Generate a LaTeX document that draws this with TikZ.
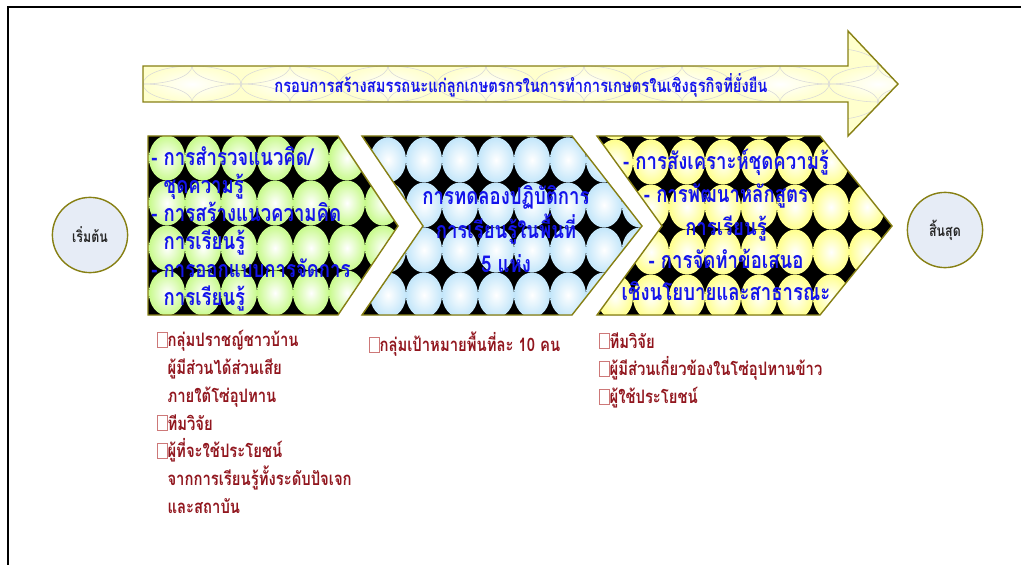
\documentclass[tikz,border=0pt]{standalone}
\usepackage{fontspec}
\usepackage{xcolor}
\usepackage{tikz}
\usetikzlibrary{positioning}
\newfontfamily\thaifont[Script=Thai,FakeStretch=0.8]{Loma}
\definecolor{oliveline}{RGB}{135,128,20}
\definecolor{titleblue}{RGB}{20,20,235}
\definecolor{listred}{RGB}{145,22,30}
\definecolor{boxred}{RGB}{205,120,120}
\definecolor{ballgreen}{RGB}{200,250,140}
\definecolor{ballblue}{RGB}{195,230,250}
\definecolor{ballyellow}{RGB}{255,255,140}
\definecolor{arrowfill}{RGB}{255,255,205}
\definecolor{endfill}{RGB}{230,236,246}
\newcommand{\stagefont}[1]{\thaifont\bfseries\fontsize{16.5}{#1}\selectfont\lineskiplimit=-40pt}
\newcommand{\listfont}{\thaifont\bfseries\fontsize{13.2}{19.8}\selectfont\lineskiplimit=-40pt}
\newcommand{\missbox}{{\color{boxred}\setlength{\fboxsep}{0pt}\setlength{\fboxrule}{0.5pt}\fbox{\rule{0pt}{10pt}\hspace{6.3pt}}}}
% grid of shaded balls: colour, first x, first y
\newcommand{\ballgrid}[3]{\foreach \c in {-1,...,8} \foreach \r in {-1,...,4}
  \shade[inner color=white, outer color=#1] ({#2+36*\c},{#3+45*\r}) ellipse (18 and 22.5);}
\tikzstyle{stage} = [draw=oliveline, line width=1pt, line join=miter]
\tikzstyle{endpoint} = [circle, draw=oliveline, line width=1pt, fill=endfill, minimum size=1.88cm, font=\thaifont\bfseries\fontsize{11}{13}\selectfont, text=black!85]
\tikzstyle{stagetext} = [text=titleblue, inner sep=0pt]
\tikzstyle{listtext} = [font=\listfont, text=listred, align=left, inner sep=0pt, anchor=north west]

\begin{document}
\begin{tikzpicture}[x=0.025cm, y=-0.025cm]
        \useasboundingbox (0,0) rectangle (1021,565);
        % Frame
        \draw [line width=1pt] (8,565) -- (8,7) -- (1021,7);

        % Big arrow
        \begin{scope}
          \clip (143,66) -- (848,66) -- (848,31) -- (898,84) -- (848,136) -- (848,102) -- (143,102) -- cycle;
          \fill [arrowfill] (143,31) rectangle (898,136);
          \foreach \i in {0,...,8} {
            \shade [inner color=white, outer color=arrowfill] ({192+98*\i},84) ellipse (49 and 18);
            \draw [gray!30, line width=0.4pt] ({192+98*\i},84) ellipse (49 and 18);
            \draw [gray!30, line width=0.4pt] ({143+98*\i},66) ellipse (49 and 18);
            \draw [gray!30, line width=0.4pt] ({143+98*\i},102) ellipse (49 and 18);
          }
        \end{scope}
        \draw [stage] (143,66) -- (848,66) -- (848,31) -- (898,84) -- (848,136) -- (848,102) -- (143,102) -- cycle;
        \node [stagetext, font=\thaifont\bfseries\fontsize{13.1}{15}\selectfont] (frametitle) at (521,85) {กรอบการสร้างสมรรถนะแก่ลูกเกษตรกรในการทำการเกษตรในเชิงธุรกิจที่ยั่งยืน};

        % Stages
        \begin{scope}
          \clip (148,136) -- (338,136) -- (398,226) -- (338,315) -- (148,315) -- cycle;
          \fill [black] (140,130) rectangle (400,320);
          \ballgrid{ballgreen}{167}{158}
        \end{scope}
        \draw [stage] (148,136) -- (338,136) -- (398,226) -- (338,315) -- (148,315) -- cycle;

        \begin{scope}
          \clip (362,136) -- (572,136) -- (642,226) -- (572,315) -- (362,315) -- (423,226) -- cycle;
          \fill [black] (355,130) rectangle (645,320);
          \ballgrid{ballblue}{388}{160}
        \end{scope}
        \draw [stage] (362,136) -- (572,136) -- (642,226) -- (572,315) -- (362,315) -- (423,226) -- cycle;

        \begin{scope}
          \clip (597,136) -- (820,136) -- (892,226) -- (820,315) -- (597,315) -- (662,226) -- cycle;
          \fill [black] (590,130) rectangle (895,320);
          \ballgrid{ballyellow}{615}{162}
        \end{scope}
        \draw [stage] (597,136) -- (820,136) -- (892,226) -- (820,315) -- (597,315) -- (662,226) -- cycle;

        % Nodes
        \node [endpoint] (start) at (90,235) {เริ่มต้น};
        \node [endpoint] (finish) at (945,230) {สิ้นสุด};

        \node [stagetext, font=\stagefont{20}, align=left, anchor=west] (surveytext) at (151,229)
          {- การสำรวจแนวคิด/\\\phantom{- }ชุดความรู้\\- การสร้างแนวความคิด\\\phantom{- }การเรียนรู้\\- การออกแบบการจัดการ\\\phantom{- }การเรียนรู้};
        \node [stagetext, font=\stagefont{24}, align=center] (trialtext) at (506,229)
          {การทดลองปฏิบัติการ\\การเรียนรู้ในพื้นที่\\5 แห่ง};
        \node [stagetext, font=\stagefont{23.4}, align=center] (synthtext) at (726,225)
          {- การสังเคราะห์ชุดความรู้\\- การพัฒนาหลักสูตร\\การเรียนรู้\\- การจัดทำข้อเสนอ\\เชิงนโยบายและสาธารณะ};

        % Labels
        \node [listtext] (villagelist) at (157,330)
          {\missbox กลุ่มปราชญ์ชาวบ้าน\\\phantom{\missbox}ผู้มีส่วนได้ส่วนเสีย\\\phantom{\missbox}ภายใต้โซ่อุปทาน\\\missbox ทีมวิจัย\\\missbox ผู้ที่จะใช้ประโยชน์\\\phantom{\missbox}จากการเรียนรู้ทั้งระดับปัจเจก\\\phantom{\missbox}และสถาบัน};
        \node [listtext] (targetlist) at (369,332) {\missbox กลุ่มเป้าหมายพื้นที่ละ 10 คน};
        \node [listtext] (teamlist) at (599,332)
          {\missbox ทีมวิจัย\\\missbox ผู้มีส่วนเกี่ยวข้องในโซ่อุปทานข้าว\\\missbox ผู้ใช้ประโยชน์};
\end{tikzpicture}
\end{document}
